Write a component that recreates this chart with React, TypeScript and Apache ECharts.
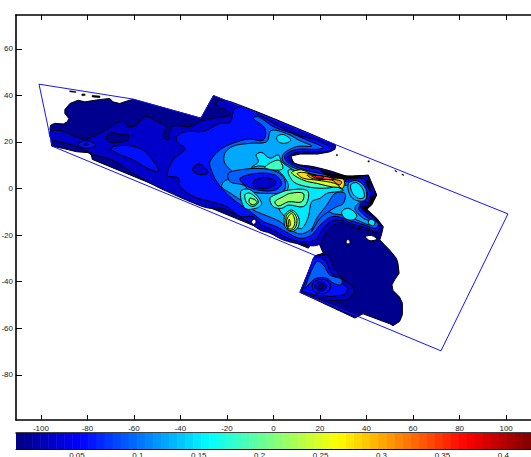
import React, { useEffect, useRef } from "react";
import * as echarts from "echarts";

const xTicks = [-100, -80, -60, -40, -20, 0, 20, 40, 60, 80, 100];
const yTicks = [-80, -60, -40, -20, 0, 20, 40, 60];
const barTicks = [0.05, 0.1, 0.15, 0.2, 0.25, 0.3, 0.35, 0.4];
const levelColors = ["#00008f", "#0000c8", "#0010ff", "#0060ff", "#00a8ff", "#00e8ff", "#40ffc0", "#90ff70", "#d0ff30", "#ffe000", "#ff9000", "#ff5000", "#ff1000", "#b00000"];

const domain = [[-100.8, 44.8], [-60.4, 38.4], [-31.2, 30.2], [-25.8, 39.9], [100.8, -10.9], [72, -69.7], [11.4, -44.6], [17.8, -28.7], [-95.2, 18.2]];

const navyOuter = [[-96.1, 25.8], [-95.8, 27.2], [-94, 28], [-90.4, 27.7], [-88.6, 28.7], [-88, 30.1], [-89.7, 32.2], [-89.7, 33.9], [-87.5, 36.5], [-84, 37.9], [-81.1, 37.2], [-76.8, 37.9], [-70.4, 38.7], [-69, 37.2], [-66.1, 36.5], [-62.6, 37.7], [-60.3, 38.3], [-31.2, 30.2], [-25.8, 39.9], [26.4, 18.9], [26.4, 16.8], [19.3, 14.8], [11.4, 14.8], [7.4, 13.9], [8.8, 10.1], [17.1, 8.9], [25.7, 6.8], [31.5, 4.9], [40.8, 5.8], [41.8, 3.4], [44.4, -2.8], [42.2, -7.1], [40.1, -8.9], [44.4, -12.8], [47.2, -16.4], [46.5, -19.5], [45.7, -22.1], [49.9, -26.4], [52.8, -29.9], [53.5, -32.1], [54, -36.4], [52.1, -39.2], [50.9, -41.4], [51.4, -43.8], [54.2, -46.6], [55.4, -49.2], [55.4, -54.2], [54.2, -57.1], [51.4, -58.9], [50, -58.1], [38.5, -53.8], [35, -55.6], [11.4, -44.6], [17.8, -28.9], [21.4, -27.8], [19.7, -23.8], [16.4, -23.5], [15, -25.6], [-77.9, 12.5], [-78.3, 14.4], [-79.7, 15.4], [-84.7, 15.8], [-90.4, 17.2], [-95.4, 18.2]];

const band2Main = [[-96.1, 24.5], [-91.1, 24.8], [-85.4, 22.3], [-80.4, 21.2], [-73.2, 24.5], [-65.3, 28.8], [-62.4, 26.6], [-59.6, 26.9], [-55, 30.9], [-50.3, 28.8], [-46.4, 26.9], [-47.4, 22.3], [-45.2, 21.2], [-43.8, 26.6], [-35.9, 26.6], [-31.6, 28.8], [-25.9, 30.2], [-18.7, 31.6], [-20.2, 33.8], [-23.7, 34.9], [-24.5, 37.3], [-21.6, 38], [-15, 36], [5, 28], [26.4, 18.7], [26.4, 17.2], [24.3, 15.8], [19.3, 15.1], [11.4, 15.1], [7.8, 13.9], [9.2, 10.8], [17.1, 9.4], [25.7, 7.2], [31.5, 5.4], [40, 5.4], [41, 3.6], [43.7, -2.1], [41.5, -7.1], [39.3, -9.2], [43.6, -12.8], [46.5, -16.4], [45.8, -19.2], [40.1, -17.8], [35.8, -17], [30, -14.9], [25.7, -15.7], [22.9, -18.5], [19.3, -24.2], [11.4, -23.8], [4.2, -22.1], [-1.5, -19.2], [-5.8, -17.8], [-10.1, -14.8], [-17.3, -10.5], [-23, -8.4], [-28, -8.4], [-34.5, -6.2], [-45.9, -1.2], [-53.1, 2.3], [-60.3, 6.6], [-69.6, 12.3], [-76.8, 14.5], [-84.6, 18], [-94.7, 20.9], [-96.1, 22.3]];

const band3Main = [[-45.9, 5.9], [-43.1, 12.3], [-38, 17], [-40.9, 19.5], [-41.6, 22.3], [-37.4, 24.5], [-30.2, 24.5], [-23, 28], [-18.7, 28.3], [-17.3, 33], [-16.6, 34.4], [-13, 34.8], [-7.2, 32.2], [-0.1, 28], [5.7, 25.1], [13, 22.2], [18.6, 20.8], [22.9, 18.7], [25, 17.7], [23.6, 16], [18.6, 15.8], [10.7, 15.8], [6.4, 13.9], [6.4, 12.2], [12.1, 9.6], [20, 8], [31.5, 4.3], [38.6, 4.3], [40.1, 1.5], [42.2, -2.8], [40, -7.1], [37.8, -8.5], [42.9, -12.8], [45.5, -16.4], [44.4, -18.5], [39.3, -16.7], [35, -15.7], [30, -13.9], [25, -13.9], [21.4, -17.1], [17.8, -22.1], [11.4, -22.8], [4.9, -20.7], [-0.1, -17.8], [-5.1, -15.7], [-8.7, -12.1], [-14.4, -12], [-20.2, -7.7], [-27.3, -5.5], [-34.5, -3.4], [-40.2, 0.9], [-40.9, 4.5], [-45.2, 5.2]];

const band4Main = [[-27.3, 11.6], [-23, 16.6], [-17.3, 19.5], [-10.8, 21.2], [-4.4, 20.8], [-3.7, 25.8], [-8.7, 30.1], [-6.5, 30.8], [0, 26.5], [7.8, 23.7], [14.3, 20.8], [21.4, 17.7], [18.6, 16.8], [10, 16.8], [5, 14.4], [5.7, 11.5], [12.8, 8.2], [22.9, 5.8], [31.5, 2.9], [37.2, 2.2], [40.1, -1.4], [39.3, -5.7], [36.5, -8.5], [40.8, -12.8], [45.1, -15], [43.7, -17.1], [39.3, -15.7], [34.3, -14.2], [29.3, -12.5], [25, -12.1], [20, -15.7], [16.4, -20], [11.4, -21.4], [6.4, -19.2], [1.4, -16.4], [-4.4, -14.2], [-8, -11.4], [-18.7, -3.5], [-24.4, 3], [-27, 8.7]];

const band5Main = [[-20.9, 10.8], [-20.9, 15.1], [-17.3, 18.2], [-10.1, 19.4], [-2.9, 20.1], [-1.5, 24.4], [0.6, 25.1], [7.1, 23], [10.7, 20.8], [16.4, 18.2], [10, 18], [4.2, 14.8], [4.2, 11.5], [11.4, 7.9], [21.4, 4.8], [30.7, 1.5], [35.8, 0], [38.6, -2.1], [37.9, -4.9], [35, -8.5], [38.6, -12.8], [42.2, -14.2], [41.5, -15.7], [35.8, -13.5], [30, -11.4], [26.4, -11], [22.9, -10], [19.3, -13.5], [15.7, -17.8], [11.4, -19.5], [7.1, -17.5], [2.8, -14.2], [-3.7, -11.4], [-8.7, -9.2], [-13, -5.7], [-18.7, -1.9], [-22.3, 0.9], [-20.2, 3.7], [-14.4, 3.7]];

const dipRight4 = [[26.4, -2.1], [30.7, -2.1], [30, -6.4], [27.2, -7.8], [24.3, -9.5], [20, -12.8], [16.4, -18.5], [18.6, -12.8], [22.9, -7.1]];
const dip4 = [[-19.4, 6.5], [-14.4, 8], [-5.8, 8.6], [1.4, 7.2], [4.9, 3.6], [4.2, -1.4], [-1.5, -2.1], [-9.4, -1.4], [-13, 1.5], [-18.7, 2.9]];
const dip3 = [[-14.4, 4.4], [-7.2, 6.5], [0.6, 5.8], [3.5, 2.2], [0.6, -0.7], [-6.5, -0.7], [-12.3, 1.5]];
const dip2 = [[-8.7, 2.9], [-4.4, 4.8], [0.6, 3.4], [0.6, 1.5], [-4.4, -0.2], [-8, 0.8]];

const band6Main = [[-9.4, 9.1], [-6.5, 11.5], [-7.5, 14.4], [-5.1, 15.5], [-1.5, 13], [2.1, 14.4], [3.5, 11.5], [10, 7.2], [20, 3.6], [30, -0.7], [27.2, -1.4], [22.9, -2.1], [20, -4.2], [16.4, -5.7], [15, -12.1], [12.1, -17.1], [8.5, -15.7], [4.2, -11.4], [2.1, -7.8], [4.2, -3.5], [6.4, 0.8], [5, 4.4], [1.4, 7.9], [-5.8, 9.7]];
const band6Upper = [[1.4, 22.2], [4.2, 23.2], [7.4, 20.8], [4.9, 19.4], [2.1, 20.1]];
const band5RightRing = [[32.2, 2.2], [36, 3.3], [39.6, 0], [39.6, -4.9], [35.8, -5.2], [32.9, -2.8]];
const band6Right = [[33.2, 1.5], [35.8, 2.5], [38.6, -0.7], [38.9, -3.8], [36.5, -4.2], [34, -2.1]];
const band6Low = [[29.3, -10], [32.2, -8.5], [35.8, -11.4], [34.3, -13.5], [30.7, -12.8]];
const band6End = [[41.5, -13.2], [43.6, -14.2], [42.9, -16], [40.8, -14.9]];
const band2Right = [[37.9, -5.7], [40.8, -6.4], [39.3, -9.2], [37.2, -7.8]];

const band7Top = [[-3.7, 9.1], [2.1, 12.2], [4, 8.6], [0.6, 7.9]];
const band7Ridge = [[6.4, 7.9], [12.8, 6.5], [21.4, 2.9], [25.7, 0.8], [21.4, 0.1], [14.3, 0.8], [8.5, 3]];
const band7Mid = [[-1.5, -4.2], [2.1, -2.1], [6.4, -0.7], [14.3, -0.7], [15, -4.2], [12.8, -7.8], [6.4, -7.1], [3.5, -8.5], [-0.1, -7.8]];
const band8Mid = [[0.6, -5.7], [4.2, -3.5], [7.1, -2.1], [12.8, -2.1], [12.1, -5.7], [6.4, -5.7], [2.1, -7.5]];
const band7Low = [[4.9, -11.4], [7.8, -9.2], [10.7, -12.1], [10.7, -16.4], [7.8, -18.5], [5, -16.4]];
const band8Low = [[5.4, -12.1], [7.8, -9.9], [10, -12.8], [9.2, -17.1], [6.4, -17.8]];
const band9Low = [[5.7, -13.5], [7.8, -10.7], [9.2, -14.2], [8.2, -17.1], [6.4, -17.1]];
const band10Low = [[6.4, -14.2], [6.8, -13.2], [7.2, -15.7], [6.5, -16.4]];

const band9Ridge = [[7.8, 6.8], [12.1, 8], [17.1, 5.8], [25.7, 4.4], [30.7, 2.2], [27.5, 0.5], [18.6, 2.2], [12.8, 3.6]];
const band10Ridge = [[10.2, 6.5], [13.5, 6.8], [18.6, 5.4], [27.2, 4.4], [30.3, 3.7], [29.7, 0.1], [26.4, 2.2], [18.6, 3.6], [12.8, 4.4]];
const band11Ridge = [[14.5, 5.8], [20, 5.4], [26.4, 3.9], [29.3, 2.9], [28.3, 1.5], [25, 3.6], [20, 3.9], [16.4, 4.4]];
const band12Ridge = [[16.4, 5.5], [22.9, 5.1], [26.4, 3.9], [22.9, 3.9], [18.6, 4.4]];
const band13Ridge = [[17.8, 5.5], [20.7, 5.4], [21.4, 4.5], [18.6, 4.6]];

const band6Peak = [[-14.1, -1.3], [-10.1, -0.5], [-5.1, -6.2], [-7.2, -8.4], [-12.3, -8.4]];
const band7Peak = [[-12.3, -2.7], [-10.1, -2], [-6.5, -5.5], [-8.7, -7.7], [-11.5, -6.2]];
const band8Peak = [[-10.1, -4.1], [-7, -5.7], [-8.7, -7], [-10.4, -6]];

const band3Left = [[-70, 17.3], [-64.6, 18.5], [-58.8, 17.7], [-54.5, 15.2], [-50.2, 9.5], [-49.5, 7.3], [-54.5, 8.8], [-60.3, 12.3], [-66, 14.5]];
const band1Left = [[-71.7, 22.3], [-69.6, 24], [-66, 23], [-62.4, 23.3], [-62.7, 20.9], [-67.5, 19.7], [-71, 20.2]];
const eye3 = [[-84, 18.8], [-80.4, 20.5], [-76.4, 18.5], [-80.4, 17.3]];
const eye1 = [[-81.5, 19.1], [-80, 19.4], [-79.6, 18.8], [-81, 18.5]];
const band2Left = [[-34.8, 7.9], [-32.1, 10.6], [-28, 6.9], [-31.6, 5.9]];
const band2Strip = [[7.8, 23], [12.1, 22.2], [12.8, 20.8], [9.2, 20.8]];
const band1Dot = [[18.8, 18.2], [19.8, 18.2], [19.8, 17.2], [18.8, 17.2]];

const lowPatch2 = [[17.8, -29.2], [19.2, -28.5], [23.5, -28.5], [24.9, -31.4], [26.4, -34.9], [30, -39.2], [34.2, -42.1], [34.9, -44.2], [32.1, -47.8], [25.7, -48.1], [18.5, -47.1], [11.4, -44.6]];
const lowPatch3 = [[17.1, -29.9], [20, -29.5], [22.8, -31.4], [24.2, -35.6], [29.2, -40.6], [32.1, -42.8], [30.7, -45.6], [24.2, -46.4], [17.1, -45.6], [12.1, -44.2]];
const lowPatch4 = [[18.5, -31.4], [21.4, -32.8], [24.2, -37.1], [29.2, -38.9], [29, -41.4], [25.7, -40.6], [22.8, -38.5], [18.5, -38.5], [15.7, -40.6], [13.5, -42.8]];
const lowRing3 = [[17.1, -40.6], [20.7, -38.9], [24.2, -40.6], [24, -43.8], [20.7, -45.2], [17.1, -43.8]];
const lowRing2 = [[17.8, -41.4], [20.7, -39.9], [22.8, -42.1], [20.7, -44.2], [18.2, -43.2]];
const lowRing1 = [[20.7, -40.9], [21.8, -42.1], [20.2, -43.2], [19, -42.4]];

const holeA = [[-9.4, -14.2], [-8.2, -13.2], [-7.5, -14.5], [-8.7, -15.4]];
const holeB = [[31.4, -22.2], [32.7, -22.2], [32.7, -23.6], [31.4, -23.6]];
const holeC = [[39.6, -20.7], [42.2, -20.2], [44.4, -21.7], [41.5, -22.4]];

const dashes = [[[-87.6, 42], [-85, 41.6], [-85, 41.2], [-87.6, 41.5]], [[-82.4, 40.6], [-81, 40.6], [-81, 39.9], [-82.4, 39.9]], [[-78, 40], [-74.6, 39.7], [-74.6, 39], [-78, 39.3]], [[27, 14.6], [27.5, 14.6], [27.5, 14.1], [27, 14.1]], [[40.6, 11.9], [41.2, 11.9], [41.2, 11.4], [40.6, 11.4]], [[52.2, 7.8], [53, 7.4], [53, 7.1], [52.2, 7.5]], [[55.2, 6.2], [56, 5.9], [56, 5.6], [55.2, 5.9]],
  [[39.8, 3.9], [40.9, 3.3], [41.8, -0.6], [40.8, -0.4]], [[41.8, -2.8], [43.2, -3.2], [42.2, -6.4], [40.9, -6]], [[38.6, -7.1], [40.8, -8.1], [39.8, -10], [37.9, -8.9]], [[20, 7.5], [31.5, 5.4], [38.6, 5.4], [31.5, 3.9], [22.9, 5.8]]];

// [points, level index (-1 = white), smoothed]
const regions: [number[][], number, boolean][] = [
  [navyOuter, 0, false], [band2Main, 1, true], [band3Left, 2, true], [band1Left, 0, true],
  [eye3, 2, true], [eye1, 0, true], [lowPatch2, 1, false], [lowPatch3, 2, false], [lowPatch4, 3, true],
  [lowRing3, 2, true], [lowRing2, 1, true], [lowRing1, 0, true],
  [band3Main, 2, true], [band2Left, 1, true], [band2Strip, 1, true], [band1Dot, 0, true],
  [band4Main, 3, true], [band5Main, 4, true], [dipRight4, 3, true], [dip4, 3, true], [dip3, 2, true], [dip2, 1, true],
  [band6Main, 5, true], [band6Upper, 5, true], [band5RightRing, 4, true], [band6Right, 5, true], [band6Low, 5, true], [band6End, 5, true], [band2Right, 1, true],
  [band7Top, 6, true], [band7Ridge, 6, true], [band7Mid, 6, true], [band8Mid, 7, true], [band7Low, 6, true], [band8Low, 7, true], [band9Low, 8, true], [band10Low, 9, true],
  [band9Ridge, 8, true], [band10Ridge, 9, true], [band11Ridge, 10, true], [band12Ridge, 11, true], [band13Ridge, 12, true],
  [band6Peak, 5, true], [band7Peak, 6, true], [band8Peak, 7, true],
  [holeA, -1, true], [holeB, -1, true], [holeC, -1, true],
];

const jetSteps = Array.from({ length: 64 }, (_, i) => i);
const barMax = 0.4227;

function jet(i: number) {
  const t = (i + 0.5) / 64;
  const c = (v: number) => Math.round(255 * Math.max(0, Math.min(1, v)));
  return `rgb(${c(Math.min(4 * t - 1.5, -4 * t + 4.5))},${c(Math.min(4 * t - 0.5, -4 * t + 3.5))},${c(Math.min(4 * t + 0.5, -4 * t + 2.5))})`;
}

const FONT = "Liberation Sans";

export default function App() {
  const ref = useRef<HTMLDivElement>(null);
  useEffect(() => {
    document.body.style.margin = "0";
    document.body.style.overflow = "hidden";
    const chart = echarts.init(ref.current!, undefined, { renderer: "svg" });
    const poly = (pts: number[][], api: any, smooth: boolean, style: any) => ({
      type: "polygon",
      shape: { points: pts.map((p) => api.coord(p)), smooth: smooth ? 0.35 : 0 },
      style,
    });
    const lineStyle = { color: "#000", width: 1.6 };
    const tick = (len: number, w = 1) => ({ show: true, inside: true, length: len, lineStyle: { color: "#000", width: w } });
    chart.setOption({
      animation: false,
      backgroundColor: "#fff",
      grid: [
        { left: 16, top: 15, width: 515, height: 405, show: false, outerBoundsMode: "none" },
        { left: 16, top: 433, width: 515, height: 16, show: false, outerBoundsMode: "none" },
      ],
      xAxis: [
        { type: "value", gridIndex: 0, position: "bottom", min: -110.7, max: 110.7, splitLine: { show: false }, axisLine: { show: true, onZero: false, lineStyle },
          axisTick: { ...tick(5), customValues: xTicks }, axisLabel: { show: true, customValues: xTicks, margin: 4, fontSize: 8, color: "#222", fontFamily: FONT } },
        { type: "value", gridIndex: 0, position: "top", min: -110.7, max: 110.7, splitLine: { show: false }, axisLine: { show: true, onZero: false, lineStyle },
          axisTick: { ...tick(5), customValues: xTicks }, axisLabel: { show: false } },
        { type: "value", gridIndex: 1, position: "bottom", min: 0, max: barMax, splitLine: { show: false }, axisLine: { show: true, onZero: false, lineStyle: { color: "#000", width: 1 } },
          axisTick: { ...tick(3), customValues: barTicks }, axisLabel: { show: true, customValues: barTicks, margin: 2, fontSize: 8, color: "#222", fontFamily: FONT } },
        { type: "value", gridIndex: 1, position: "top", min: 0, max: barMax, splitLine: { show: false }, axisLine: { show: true, onZero: false, lineStyle: { color: "#000", width: 1.5 } },
          axisTick: { ...tick(3), customValues: barTicks }, axisLabel: { show: false } },
      ],
      yAxis: [
        { type: "value", gridIndex: 0, min: -99.4, max: 74.5, splitLine: { show: false }, axisLine: { show: true, onZero: false, lineStyle },
          axisTick: { ...tick(6), customValues: yTicks }, axisLabel: { show: true, customValues: yTicks, margin: 3, fontSize: 8, color: "#222", fontFamily: FONT } },
        { type: "value", gridIndex: 1, min: 0, max: 1, splitLine: { show: false }, axisLine: { show: false }, axisTick: { show: false }, axisLabel: { show: false } },
      ],
      series: [
        {
          type: "custom", xAxisIndex: 0, yAxisIndex: 0, clip: true, silent: true, z: 1,
          data: regions.map((_, i) => [i]),
          encode: { x: -1, y: -1 },
          renderItem: (params: any, api: any) => {
            const [pts, lvl, smooth] = regions[params.dataIndex];
            return poly(pts, api, smooth, { fill: lvl < 0 ? "#fff" : levelColors[lvl], stroke: "#000", lineWidth: 1 });
          },
        },
        {
          type: "custom", xAxisIndex: 0, yAxisIndex: 0, clip: true, silent: true, z: 2,
          data: dashes.map((_, i) => [i]),
          encode: { x: -1, y: -1 },
          renderItem: (params: any, api: any) => poly(dashes[params.dataIndex], api, false, { fill: "#000", stroke: "#000", lineWidth: 0.5 }),
        },
        {
          type: "custom", xAxisIndex: 0, yAxisIndex: 0, clip: true, silent: true, z: 3,
          data: [[0]],
          encode: { x: -1, y: -1 },
          renderItem: (_: any, api: any) => poly(domain, api, false, { fill: "none", stroke: "#1414ff", lineWidth: 1 }),
        },
        {
          type: "custom", xAxisIndex: 2, yAxisIndex: 1, silent: true, z: 1,
          data: jetSteps.map((i) => [i]),
          encode: { x: -1, y: -1 },
          renderItem: (params: any, api: any) => {
            const i = params.dataIndex;
            const a = api.coord([(i / 64) * barMax, 1]);
            const b = api.coord([((i + 1) / 64) * barMax, 0]);
            return { type: "rect", shape: { x: a[0], y: a[1], width: b[0] - a[0] + 0.5, height: b[1] - a[1] }, style: { fill: jet(i) } };
          },
        },
      ],
    });
    return () => chart.dispose();
  }, []);
  return <div ref={ref} style={{ width: 531, height: 457 }} />;
}
